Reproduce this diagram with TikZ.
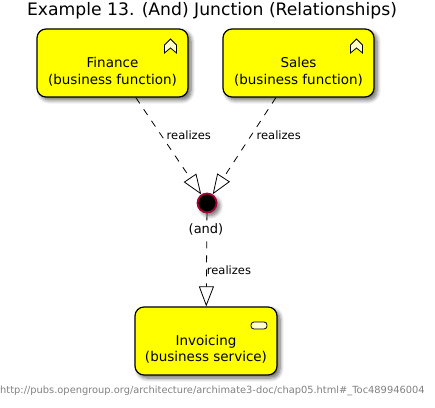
\documentclass[tikz,border=0pt]{standalone}
\usepackage{fontspec}
\setmainfont{DejaVu Sans}
\usetikzlibrary{arrows.meta, shadows.blur}
\definecolor{elemyellow}{RGB}{255,255,0}
\definecolor{junctionred}{RGB}{168,0,54}
\definecolor{iconyellow}{RGB}{255,255,204}
\tikzset{
  softshadow/.style={blur shadow={shadow xshift=3pt, shadow yshift=-3pt, shadow blur steps=6, shadow blur radius=4pt, shadow opacity=60}},
  elem/.style={draw=black, line width=1.2pt, fill=elemyellow, rounded corners=9pt, minimum width=151pt, minimum height=68pt,
    align=center, font=\fontsize{13.5}{16.5}\selectfont, text depth=0pt, inner sep=0pt, softshadow},
  realize/.style={dashed, dash pattern=on 7pt off 7pt, line width=.8pt, -{Triangle[open, length=20pt, width=15pt, line width=.8pt]}},
  rellabel/.style={font=\fontsize{11.5}{14}\selectfont, inner sep=0pt},
  iconfill/.style={draw=black, line width=.8pt, fill=iconyellow, line join=miter},
}
\begin{document}
\begin{tikzpicture}[x=1pt,y=1pt]
\useasboundingbox (0,0) rectangle (435,407);
% Title and source line
\node[font=\fontsize{17.2}{20}\selectfont] (title) at (212,396) {Example 13. (And) Junction (Relationships)};
\node[font=\fontsize{9.86}{12}\selectfont, text=black!50, anchor=west, inner sep=0pt] (source) at (0,16) {http://pubs.opengroup.org/architecture/archimate3-doc/chap05.html\#\_Toc489946004};
% The three elements
\node[elem] (finance) at (112.5,344) {\\[10pt]Finance\\(business function)};
\node[elem] (sales) at (298.5,344) {\\[10pt]Sales\\(business function)};
\node[elem, minimum width=142pt] (invoicing) at (206,66) {\\[8pt]Invoicing\\(business service)};
% Junction dot
\node[circle, fill=black, draw=junctionred, line width=1.8pt, minimum size=19pt, inner sep=0pt, softshadow] (junction) at (207,204) {};
% Realization connectors
\draw[realize] (finance) -- node[rellabel, pos=.39, right, xshift=5pt] (lfinance) {realizes} (junction);
\draw[realize] (sales) -- node[rellabel, pos=.39, right, xshift=5pt] (lsales) {realizes} (junction);
\draw[realize] (junction) -- node[rellabel, pos=.61, right, xshift=0pt] (linvoicing) {realizes} (invoicing);
\node[fill=white, font=\fontsize{13}{15}\selectfont, inner sep=1pt] (andlabel) at (206,178) {(and)};
% Function icons
\foreach \n/\cx in {ficon/170.5, sicon/356.5} {
  \draw[iconfill] (\cx-6,354) -- (\cx-6,362) -- (\cx,368) -- (\cx+6,362) -- (\cx+6,354) -- (\cx,359) -- cycle;
}
% Service icon
\draw[iconfill, rounded corners=3pt] (251,78) rectangle (267,85);
\end{tikzpicture}
\end{document}
